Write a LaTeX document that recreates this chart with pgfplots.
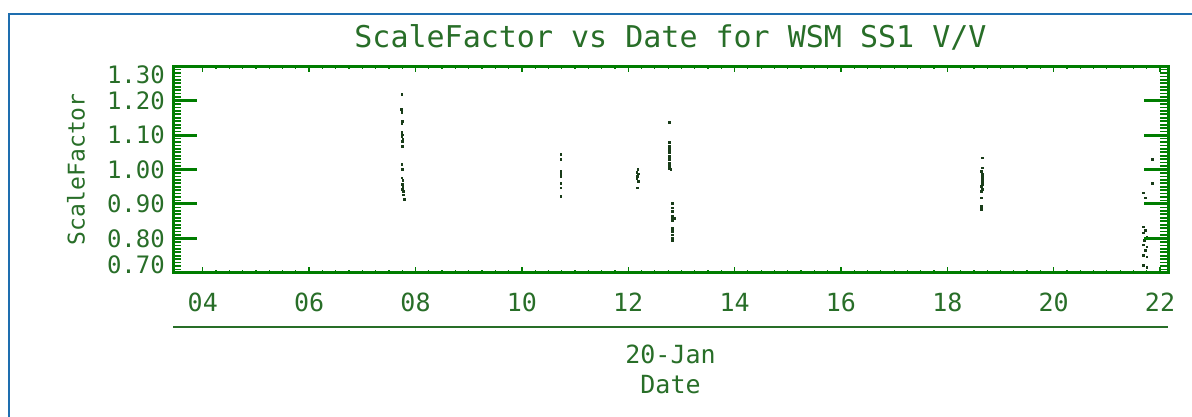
\documentclass[border=0pt]{standalone}
\usepackage{pgfplots}
\pgfplotsset{compat=1.18}
\usepackage{fontspec}
\setmainfont{DejaVu Sans Mono}
\definecolor{gframe}{RGB}{0,125,0}
\definecolor{txt}{RGB}{40,110,40}
\definecolor{pts}{RGB}{25,60,25}
\definecolor{border}{RGB}{30,110,175}
\begin{document}
\begin{tikzpicture}[x=1pt,y=1pt]
\path[use as bounding box] (0,0) rectangle (1192,417);
\draw[draw=border, line width=2.5pt] (9,0) -- (9,403) -- (1192,403);
\begin{axis}[
  at={(173pt,144pt)}, anchor=south west, scale only axis,
  width=995pt, height=207pt,
  xmin=3.44, xmax=22.15, ymin=0.7, ymax=1.3,
  xtick={4,6,8,10,12,14,16,18,20,22},
  xticklabels={04,06,08,10,12,14,16,18,20,22},
  minor x tick num=7,
  tick align=inside,
  major tick length=6pt, minor tick length=3pt,
  ytick=\empty,
  axis line style={draw=gframe, line width=3pt},
  major x tick style={draw=gframe, line width=1.3pt},
  minor x tick style={draw=gframe, line width=1.2pt},
  /pgf/number format/assume math mode=true,
  xticklabel style={font=\fontsize{25}{30}\selectfont, text=txt, anchor=center, yshift=-29pt},
  title={ScaleFactor vs Date for WSM SS1 V/V},
  title style={font=\fontsize{30}{36}\selectfont, text=txt, anchor=center, yshift=23pt},
  xlabel={20-Jan\\Date},
  xlabel style={font=\fontsize{25}{30}\selectfont, text=txt, align=center, inner sep=0pt,
    at={(axis description cs:0.5,0)}, anchor=north, yshift=-72pt},
]
\addplot[only marks, mark=square*, mark size=0.9pt, color=pts] table {
x y
7.74 1.219
7.73 1.175
7.74 1.166
7.75 1.141
7.74 1.134
7.74 1.107
7.75 1.101
7.74 1.095
7.76 1.089
7.75 1.083
7.75 1.068
7.74 1.015
7.75 1.000
7.74 0.976
7.76 0.968
7.75 0.957
7.76 0.950
7.75 0.943
7.77 0.936
7.77 0.927
7.78 0.913
10.73 1.044
10.73 1.029
10.73 0.995
10.73 0.988
10.73 0.981
10.73 0.961
10.73 0.947
10.73 0.922
12.18 1.002
12.16 0.993
12.19 0.988
12.17 0.981
12.16 0.975
12.19 0.966
12.17 0.947
12.77 1.136
12.77 1.078
12.77 1.068
12.77 1.059
12.77 1.049
12.77 1.039
12.77 1.029
12.77 1.020
12.77 1.012
12.77 1.004
12.80 1.000
12.83 0.903
12.83 0.889
12.83 0.879
12.83 0.866
12.83 0.859
12.86 0.859
12.83 0.852
12.83 0.830
12.83 0.820
12.83 0.811
12.83 0.801
12.83 0.794
18.65 1.034
18.65 1.005
18.64 0.995
18.65 0.986
18.66 0.979
18.66 0.972
18.65 0.965
18.65 0.958
18.64 0.951
18.65 0.944
18.64 0.937
18.64 0.918
18.63 0.893
18.63 0.884
21.68 0.933
21.72 0.918
21.68 0.834
21.72 0.825
21.69 0.817
21.75 0.805
21.70 0.796
21.68 0.782
21.75 0.776
21.72 0.767
21.68 0.752
21.75 0.747
21.69 0.723
21.75 0.717
21.85 1.030
21.85 0.960
};
\end{axis}
\begin{axis}[
  at={(173pt,144pt)}, anchor=south west, scale only axis,
  width=995pt, height=207pt,
  xmin=3.44, xmax=22.15, ymin=0.7, ymax=1.3,
  xtick=\empty,
  ytick={0.7,0.8,0.9,1.0,1.1,1.2,1.3},
  yticklabels={,0.80,0.90,1.00,1.10,1.20,},
  minor y tick num=9,
  tick align=inside,
  major tick length=24pt, minor tick length=8pt,
  axis line style={draw=gframe, line width=3pt},
  major y tick style={draw=gframe, line width=3pt},
  minor y tick style={draw=gframe, line width=1.7pt},
  clip=false,
  /pgf/number format/assume math mode=true,
  yticklabel style={font=\fontsize{24}{28}\selectfont, text=txt, anchor=east, inner sep=0pt, xshift=-8pt},
  ylabel={ScaleFactor},
  ylabel style={font=\fontsize{23}{27}\selectfont, text=txt, at={(axis description cs:-0.0975,0.5)}, anchor=center},
]
\node[anchor=east, inner sep=0pt, xshift=-8pt, yshift=-9pt, font=\fontsize{24}{28}\selectfont, text=txt] at (axis cs:3.44,1.3) {1.30};
\node[anchor=east, inner sep=0pt, xshift=-8pt, yshift=8pt, font=\fontsize{24}{28}\selectfont, text=txt] at (axis cs:3.44,0.7) {0.70};
\end{axis}
\draw[draw=txt, line width=1.8pt] (173,90) -- (1168,90);
\end{tikzpicture}
\end{document}
